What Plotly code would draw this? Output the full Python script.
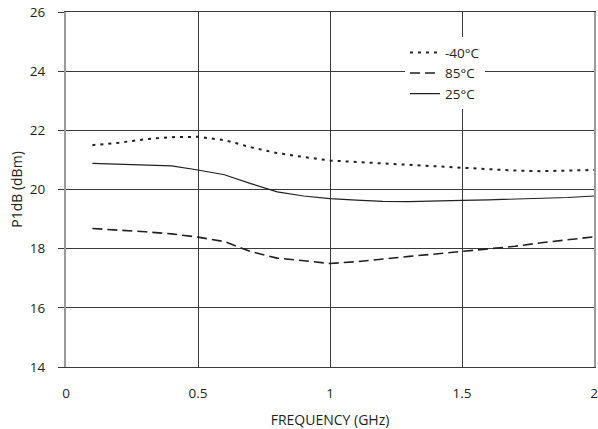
import plotly.graph_objects as go

freq = [0.1, 0.2, 0.3, 0.4, 0.5, 0.6, 0.7, 0.8, 0.9, 1.0,
        1.1, 1.2, 1.3, 1.4, 1.5, 1.6, 1.7, 1.8, 1.9, 2.0]
p_m40 = [21.50, 21.58, 21.70, 21.77, 21.78, 21.67, 21.43, 21.23, 21.10, 20.98,
         20.93, 20.88, 20.82, 20.77, 20.72, 20.68, 20.64, 20.62, 20.64, 20.66]
p_85 = [18.68, 18.63, 18.57, 18.50, 18.39, 18.24, 17.90, 17.68, 17.58, 17.50,
        17.56, 17.66, 17.74, 17.82, 17.90, 17.98, 18.08, 18.20, 18.30, 18.40]
p_25 = [20.88, 20.85, 20.83, 20.80, 20.66, 20.50, 20.20, 19.92, 19.78, 19.69,
        19.64, 19.60, 19.59, 19.60, 19.63, 19.65, 19.67, 19.70, 19.73, 19.78]

x_ticks = [0, 0.5, 1, 1.5, 2]
x_tick_labels = ["0", "0.5", "1", "1.5", "2"]
y_ticks = [14, 16, 18, 20, 22, 24, 26]

FONT = "Open Sans"
INK = "#231f20"

fig = go.Figure()
fig.add_trace(go.Scatter(x=freq, y=p_m40, mode="lines", name="-40°C",
                         line=dict(color=INK, width=2, dash="3px,5px")))
fig.add_trace(go.Scatter(x=freq, y=p_85, mode="lines", name="85°C",
                         line=dict(color=INK, width=1.6, dash="10px,5px")))
fig.add_trace(go.Scatter(x=freq, y=p_25, mode="lines", name="25°C",
                         line=dict(color=INK, width=1.2)))

fig.update_layout(
    width=598, height=429,
    margin=dict(l=66, r=4, t=12, b=62),
    paper_bgcolor="white", plot_bgcolor="white",
    font=dict(family=FONT, size=13, color=INK),
    showlegend=True,
    legend=dict(x=0.642, y=0.929, xanchor="left", yanchor="top",
                bgcolor="white", borderwidth=0,
                font=dict(family=FONT, size=13.5, color=INK),
                tracegroupgap=0),
    xaxis=dict(range=[0, 2], tickvals=x_ticks, ticktext=x_tick_labels,
               showgrid=True, gridcolor="#3a3a3a", gridwidth=1,
               zeroline=False, showline=True, linecolor="#3a3a3a",
               linewidth=1, mirror=True, ticks="",
               ticklabelstandoff=14, automargin=False,
               ticklabeloverflow="allow",
               tickfont=dict(size=13.5),
               title=dict(text="FREQUENCY (GHz)", font=dict(size=14), standoff=14)),
    yaxis=dict(range=[14, 26], tickvals=y_ticks,
               showgrid=True, gridcolor="#3a3a3a", gridwidth=1,
               zeroline=False, showline=True, linecolor="#9a9a9a",
               linewidth=2, mirror=True, ticks="outside", ticklen=6,
               tickcolor="#3a3a3a", tickwidth=1,
               ticklabelstandoff=10, automargin=False,
               ticklabeloverflow="allow",
               tickfont=dict(size=13.5),
               title=dict(text="P1dB (dBm)", font=dict(size=14), standoff=4)),
)

# remove the page's default body margin so the figure fills the window exactly
fig.write_html("out.html",
               config={"displayModeBar": False},
               post_script="document.body.style.margin='0';document.body.style.overflow='hidden';")
